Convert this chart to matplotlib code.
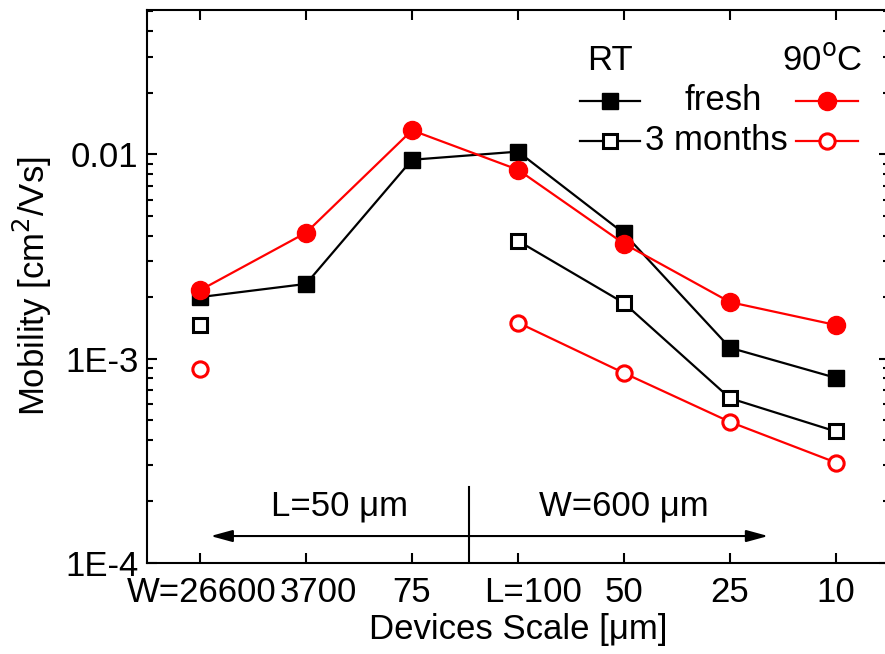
import numpy as np
import matplotlib
matplotlib.use('Agg')
import matplotlib.pyplot as plt
import matplotlib.transforms as mtransforms
from matplotlib.ticker import LogLocator, NullFormatter
from matplotlib.lines import Line2D

plt.rcParams['font.family'] = ['Liberation Sans Narrow', 'Liberation Sans', 'DejaVu Sans']
plt.rcParams['mathtext.fontset'] = 'custom'
plt.rcParams['mathtext.rm'] = 'Liberation Sans Narrow'
plt.rcParams['mathtext.it'] = 'Liberation Sans Narrow:italic'

scale_labels = ['W=26600', '3700', '75', 'L=100', '50', '25', '10']
x = np.arange(len(scale_labels))

rt_fresh = [2.0e-3, 2.32e-3, 9.4e-3, 1.03e-2, 4.1e-3, 1.13e-3, 8.05e-4]
rt_3m = [1.46e-3, None, None, 3.77e-3, 1.87e-3, 6.4e-4, 4.4e-4]
hot_fresh = [2.16e-3, 4.13e-3, 1.31e-2, 8.4e-3, 3.65e-3, 1.89e-3, 1.46e-3]
hot_3m = [8.9e-4, None, None, 1.5e-3, 8.5e-4, 4.9e-4, 3.1e-4]

ytick_vals = [1e-4, 1e-3, 1e-2]
ytick_text = ['1E-4', '1E-3', '0.01']

fs = 25

fig = plt.figure(figsize=(8.85, 6.54), dpi=100)
ax = fig.add_axes([147/885, 1-563/654, 742/885, 553/654])

def arr(v):
    return np.array([np.nan if a is None else a for a in v], dtype=float)

lw = 1.6
ax.plot(x, arr(rt_fresh), '-s', color='black', lw=lw, ms=11, mfc='black')
ax.plot(x, arr(rt_3m), '-s', color='black', lw=lw, ms=9.5, mfc='white', mew=2.2)
ax.plot(x, arr(hot_fresh), '-o', color='red', lw=lw, ms=13, mfc='red')
ax.plot(x, arr(hot_3m), '-o', color='red', lw=lw, ms=11, mfc='white', mew=2.2)

ax.set_yscale('log')
ax.set_xlim(-0.5, 6.5)
ax.set_ylim(1e-4, 0.0508)
ax.set_xticks(x)
ax.set_xticklabels(scale_labels)
ax.set_yticks(ytick_vals)
ax.set_yticklabels(ytick_text)
ax.yaxis.set_minor_locator(LogLocator(base=10, subs=np.arange(2, 10)))
ax.yaxis.set_minor_formatter(NullFormatter())
ax.tick_params(which='both', direction='in', top=True, right=True, labelsize=fs, width=1.5)
ax.tick_params(which='major', length=7)
ax.tick_params(axis='x', which='major', pad=9)
ax.tick_params(axis='y', which='major', pad=6)
ax.tick_params(which='minor', length=4)
ax.tick_params(axis='x', which='minor', top=False, bottom=False)
for s in ax.spines.values():
    s.set_linewidth(1.5)

# a couple of tick labels sit a little right of their ticks in the original
shifts = {0: 2, 1: 12, 3: 15}
for i, lab in enumerate(ax.get_xticklabels()):
    if i in shifts:
        lab.set_transform(lab.get_transform() + mtransforms.ScaledTranslation(shifts[i] / 100, 0, fig.dpi_scale_trans))

ax.set_xlabel('Devices Scale [μm]', fontsize=fs, labelpad=3)
ax.set_ylabel(r'Mobility [cm$^2$/Vs]', fontsize=fs, labelpad=8)

# separator and arrows
sep_x = 2.54
astyle = '-|>,head_length=1.1,head_width=0.3'
ax.plot([sep_x, sep_x], [1e-4, 2.36e-4], color='black', lw=1.5)
ax.annotate('', xy=(0.1, 1.355e-4), xytext=(sep_x, 1.355e-4),
            arrowprops=dict(arrowstyle=astyle, color='black', lw=1.5, mutation_scale=12, shrinkA=0, shrinkB=0))
ax.annotate('', xy=(5.36, 1.355e-4), xytext=(sep_x, 1.355e-4),
            arrowprops=dict(arrowstyle=astyle, color='black', lw=1.5, mutation_scale=12, shrinkA=0, shrinkB=0))
ax.text(1.32, 1.58e-4, 'L=50 μm', fontsize=fs, ha='center', va='bottom')
ax.text(4.0, 1.58e-4, 'W=600 μm', fontsize=fs, ha='center', va='bottom')

# custom legend
tr = ax.transAxes
def px(xp, yp):
    return ((xp - 147) / 742, (563 - yp) / 553)

ax.text(*px(610, 60), 'RT', transform=tr, fontsize=fs, ha='center', va='center')
ax.text(*px(822, 60), r'90$^{\mathrm{o}}$C', transform=tr, fontsize=fs, ha='center', va='center')
rows = [(101, 'fresh', 723), (141, '3 months', 716)]
styles = [
    [dict(color='black', marker='s', ms=11, mfc='black'), dict(color='red', marker='o', ms=13, mfc='red')],
    [dict(color='black', marker='s', ms=9.5, mfc='white', mew=2.2), dict(color='red', marker='o', ms=11, mfc='white', mew=2.2)],
]
for (yp, label, tx), (bst, rst) in zip(rows, styles):
    x0, y0 = px(580, yp)
    x1, _ = px(640, yp)
    ax.add_line(Line2D([x0, x1], [y0, y0], transform=tr, lw=lw, color=bst['color']))
    xm, _ = px(610, yp)
    ax.add_line(Line2D([xm], [y0], transform=tr, lw=0, **bst))
    x0, _ = px(796, yp)
    x1, _ = px(858, yp)
    ax.add_line(Line2D([x0, x1], [y0, y0], transform=tr, lw=lw, color=rst['color']))
    xm, _ = px(827, yp)
    ax.add_line(Line2D([xm], [y0], transform=tr, lw=0, **rst))
    ax.text(*px(tx, yp), label, transform=tr, fontsize=fs, ha='center', va='center')

fig.savefig('out.png', dpi=100)
